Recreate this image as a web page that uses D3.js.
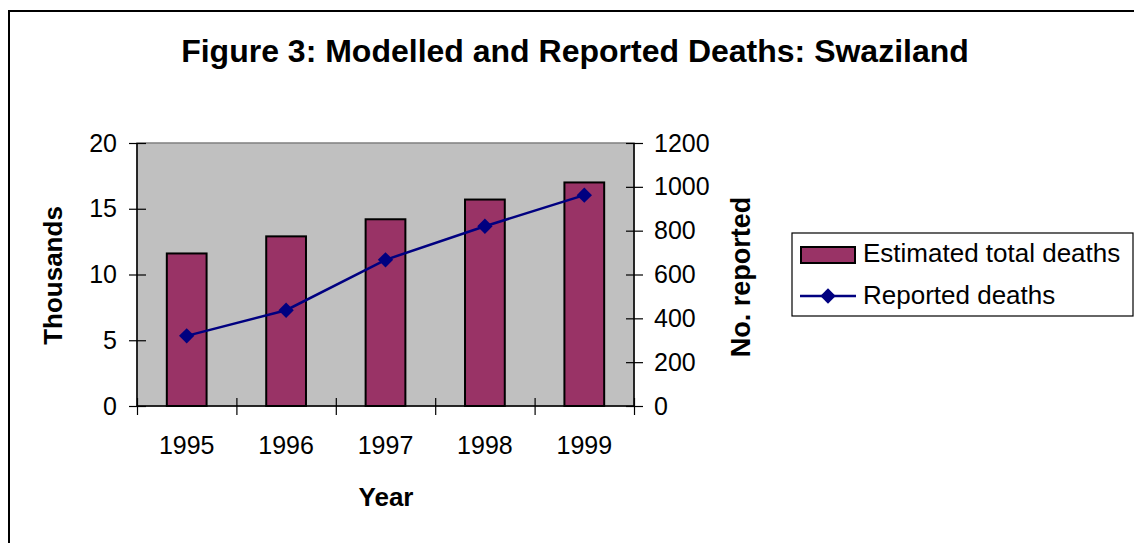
<!DOCTYPE html>
<html><head><meta charset="utf-8">
<script src="https://cdn.jsdelivr.net/npm/d3@7"></script>
<style>
body{margin:0;background:#fff;}
svg{display:block;font-family:"Liberation Sans",Arial,sans-serif;}
</style></head>
<body>
<svg id="c" width="1134" height="543"></svg>
<script>
const years = ["1995","1996","1997","1998","1999"];
const estimatedThousands = [11.6, 12.9, 14.2, 15.7, 17.0];
const reportedDeaths = [320, 437, 667, 820, 962];
const leftTicks = [0,5,10,15,20];
const rightTicks = [0,200,400,600,800,1000,1200];

const svg = d3.select("#c");
const L = 137, R = 634, T = 143, B = 406;

// chart border
svg.append("rect").attr("x",9).attr("y",11).attr("width",1140).attr("height",545)
  .attr("fill","#fff").attr("stroke","#000").attr("stroke-width",2);

svg.append("text").attr("x",575).attr("y",62).attr("text-anchor","middle")
  .attr("font-weight","bold").attr("font-size",32).text("Figure 3: Modelled and Reported Deaths: Swaziland");

const x = d3.scaleBand().domain(years).range([L,R]).paddingInner(0.6).paddingOuter(0.3);
const xb = d3.scaleLinear().domain([0,years.length]).range([L,R]);
const yL = d3.scaleLinear().domain([0,20]).range([B,T]);
const yR = d3.scaleLinear().domain([0,1200]).range([B,T]);

// plot area
svg.append("rect").attr("x",L).attr("y",T).attr("width",R-L).attr("height",B-T)
  .attr("fill","#c0c0c0").attr("stroke","#808080").attr("stroke-width",1.5);

// bars
const bw = (R-L)/years.length/2.5;
svg.append("g").selectAll("rect").data(years).join("rect")
  .attr("x",(d)=>x(d)+x.bandwidth()/2-bw/2)
  .attr("width",bw)
  .attr("y",(d,i)=>yL(estimatedThousands[i]))
  .attr("height",(d,i)=>B-yL(estimatedThousands[i]))
  .attr("fill","#993366").attr("stroke","#000").attr("stroke-width",2);

// line
const cx = (d)=>x(d)+x.bandwidth()/2;
const line = d3.line().x((d,i)=>cx(years[i])).y(d=>yR(d));
svg.append("path").datum(reportedDeaths).attr("d",line)
  .attr("fill","none").attr("stroke","#000080").attr("stroke-width",2.5);
const diamond = d3.symbol().type(d3.symbolDiamond2).size(150);
svg.append("g").selectAll("path").data(reportedDeaths).join("path")
  .attr("transform",(d,i)=>`translate(${cx(years[i])},${yR(d)})`)
  .attr("d",diamond).attr("fill","#000080");

// axes
const fs = 25;
const gl = svg.append("g").attr("transform",`translate(${L},0)`)
  .call(d3.axisLeft(yL).tickValues(leftTicks).tickFormat(d3.format("d")).tickSize(8).tickPadding(12));
gl.selectAll(".tick line").attr("x1",9).attr("x2",-8);
const gr = svg.append("g").attr("transform",`translate(${R},0)`)
  .call(d3.axisRight(yR).tickValues(rightTicks).tickFormat(d3.format("d")).tickSize(8).tickPadding(12));
gr.selectAll(".tick line").attr("x1",-8).attr("x2",9);
const gb = svg.append("g").attr("transform",`translate(0,${B})`)
  .call(d3.axisBottom(xb).tickValues(d3.range(years.length+1)).tickFormat("").tickSize(9));
gb.selectAll(".tick line").attr("y1",-8).attr("y2",9);
const gx = svg.append("g").attr("transform",`translate(0,${B})`)
  .call(d3.axisBottom(x).tickSize(0).tickPadding(30));
gx.select(".domain").remove();
[gl,gr,gb].forEach(g=>{g.select(".domain").attr("stroke","#000").attr("stroke-width",1.5);
  g.selectAll(".tick line").attr("stroke","#000").attr("stroke-width",1.2);});
[gl,gr,gx].forEach(g=>g.selectAll("text").attr("font-size",fs)
  .attr("font-family","'Liberation Sans',Arial,sans-serif").attr("fill","#000"));
gl.select(".domain").attr("d",`M0,${T}V${B}`);
gr.select(".domain").attr("d",`M0,${T}V${B}`);
gb.select(".domain").attr("d",`M${L},0H${R}`);

// axis titles
svg.append("text").attr("transform","translate(62,275.5) rotate(-90)").attr("text-anchor","middle")
  .attr("font-weight","bold").attr("font-size",26).text("Thousands");
svg.append("text").attr("transform","translate(750,277) rotate(-90)").attr("text-anchor","middle")
  .attr("font-weight","bold").attr("font-size",27).text("No. reported");
svg.append("text").attr("x",386).attr("y",506).attr("text-anchor","middle")
  .attr("font-weight","bold").attr("font-size",26).text("Year");

// legend
const lg = svg.append("g");
lg.append("rect").attr("x",792).attr("y",233).attr("width",341).attr("height",83)
  .attr("fill","#fff").attr("stroke","#000").attr("stroke-width",1.2);
lg.append("rect").attr("x",801).attr("y",247).attr("width",54).attr("height",16)
  .attr("fill","#993366").attr("stroke","#000").attr("stroke-width",2);
lg.append("text").attr("x",863).attr("y",262).attr("font-size",26).text("Estimated total deaths");
lg.append("line").attr("x1",800).attr("x2",856).attr("y1",296).attr("y2",296)
  .attr("stroke","#000080").attr("stroke-width",2.5);
lg.append("path").attr("transform","translate(828,296)").attr("d",diamond).attr("fill","#000080");
lg.append("text").attr("x",863).attr("y",304).attr("font-size",26).text("Reported deaths");
</script>
</body></html>
